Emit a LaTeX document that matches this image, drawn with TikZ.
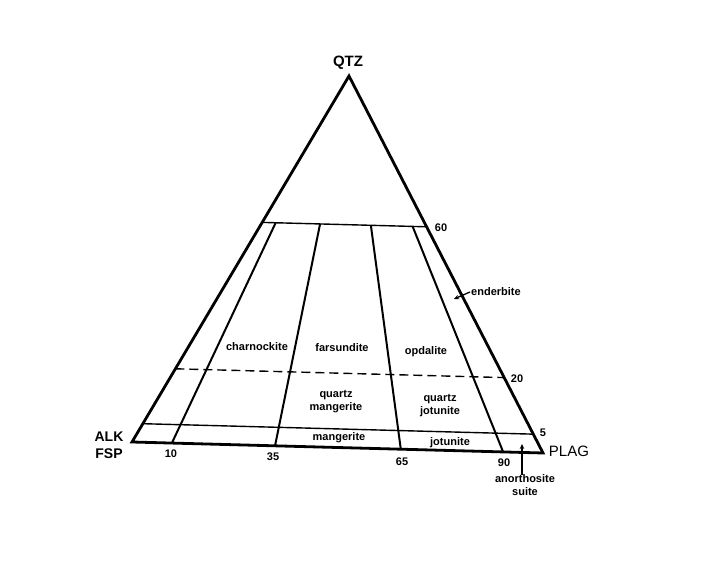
\documentclass[tikz,border=0pt]{standalone}
\usepackage{fontspec}
\setmainfont{Liberation Sans}
\usetikzlibrary{arrows.meta,calc}
\begin{document}
\begin{tikzpicture}[x=1pt,y=-1pt,
  outer/.style={line width=2.8pt,line join=miter},
  divline/.style={line width=2pt},
  hline/.style={line width=1.4pt},
  lbl/.style={font=\bfseries\fontsize{11}{13}\selectfont, inner sep=0pt, align=center},
  num/.style={font=\bfseries\fontsize{11}{12}\selectfont, inner sep=0pt},
  corner/.style={font=\bfseries\fontsize{14}{17}\selectfont, inner sep=0pt},
  ptr/.style={line width=1.3pt,-{Stealth[length=5pt,width=4.5pt]}}]
\useasboundingbox (0,0) rectangle (713,567);
% corners
\coordinate (A) at (132,442);
\coordinate (P) at (543,453);
\coordinate (Q) at (349,76);
% horizontal lines
\coordinate (L60) at ($(A)!0.6!(Q)$);
\coordinate (R60) at ($(P)!0.6!(Q)$);
\coordinate (L20) at ($(A)!0.2!(Q)$);
\coordinate (R20) at ($(P)!0.2!(Q)$);
\coordinate (L5) at ($(A)!0.05!(Q)$);
\coordinate (R5) at ($(P)!0.05!(Q)$);
\draw[hline] (L60) -- (R60);
\draw[hline] (L5) -- (R5);
\draw[hline, dash pattern=on 9pt off 5pt] (L20) -- (R20);
% dividing lines
\coordinate (T10) at ($(L60)!0.082!(R60)$);
\coordinate (T35) at ($(L60)!0.352!(R60)$);
\coordinate (T65) at ($(L60)!0.661!(R60)$);
\coordinate (T90) at ($(L60)!0.915!(R60)$);
\coordinate (B10) at ($(A)!0.097!(P)$);
\coordinate (B35) at ($(A)!0.348!(P)$);
\coordinate (B65) at ($(A)!0.654!(P)$);
\coordinate (B90) at ($(A)!0.903!(P)$);
\draw[divline] (T10) -- (B10);
\draw[divline] (T35) -- (B35);
\draw[divline] (T65) -- (B65);
\draw[divline] (T90) -- (B90);
% outer triangle
\draw[outer] (A) -- (Q) -- (P) -- cycle;
% corner labels
\node[font=\bfseries\fontsize{15}{17}\selectfont, inner sep=0pt] (qtz) at (348,63) {QTZ};
\node[corner] (alk) at (109,437) {ALK};
\node[corner] (fsp) at (109,454) {FSP};
\node[font=\fontsize{15}{17}\selectfont, inner sep=0pt] (plag) at (569,451) {PLAG};
% field labels
\node[lbl] (charn) at (257,347) {charnockite};
\node[lbl] (fars) at (342,348) {farsundite};
\node[lbl] (opd) at (426,352) {opdalite};
\node[lbl] (qman) at (336,401.5) {quartz\\mangerite};
\node[lbl] (qjot) at (440,405.5) {quartz\\jotunite};
\node[lbl] (mang) at (339,438) {mangerite};
\node[lbl] (jot) at (450,443) {jotunite};
\node[lbl, anchor=west] (ender) at (471,292) {enderbite};
\node[lbl] (anor) at (525,485) {anorthosite\\suite};
% numbers
\node[num] (n60) at (441,228) {60};
\node[num] (n20) at (517,379) {20};
\node[num] (n5) at (543,433) {5};
\node[num] (n10) at (171,454) {10};
\node[num] (n35) at (273,457) {35};
\node[num] (n65) at (402,462) {65};
\node[num] (n90) at (504,463) {90};
% pointers
\coordinate (endtip) at (454,299);
\coordinate (anortip) at (522,444);
\draw[ptr] ([xshift=-1pt]ender.west) -- (endtip);
\draw[ptr] ([yshift=-1pt]anor.north -| anortip) -- (anortip);
\end{tikzpicture}
\end{document}
